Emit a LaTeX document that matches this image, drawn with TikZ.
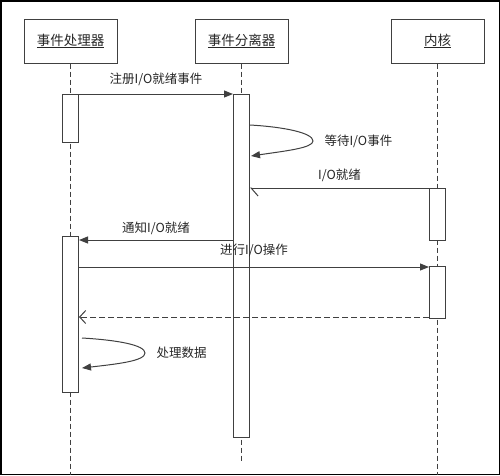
\documentclass[tikz,border=0pt]{standalone}
\usepackage{fontspec}
\setmainfont{Noto Sans CJK SC}
\usetikzlibrary{arrows.meta,positioning}
\tikzset{
    %Define standard arrow tip
    >={Triangle[length=9pt,width=7pt]},
    %Define style for boxes
    actor/.style={
           rectangle,
           draw=black!75, line width=1pt,
           minimum width=93pt,
           minimum height=44pt,
           font=\fontsize{13.5}{15}\selectfont,
           text=black!85,
           text centered},
    act/.style={
    rectangle,
    draw=black!75, line width=1pt,
    fill=white,
    minimum width=16pt,
    inner sep=0pt,
    anchor=north},
    % Define line styles
    life/.style={draw=black!75, line width=1pt, dash pattern=on 5pt off 3pt},
    msg/.style={draw=black!75, line width=1pt, ->},
    txt/.style={font=\fontsize{12.5}{14}\selectfont, text=black!85}
}
\begin{document}
\begin{tikzpicture}[x=1pt,y=-1pt]
\draw[line width=1.5pt] (0.75,0.75) rectangle (499.25,474.25);
\useasboundingbox (0,0) rectangle (500,475);
 %actors
\node[actor](handler) at (70.5,41) {\underline{事件处理器}};
\node[actor](demux) at (241.5,41) {\underline{事件分离器}};
\node[actor](kernel) at (437.5,41) {\underline{内核}};
\coordinate (handler end) at (70.5,475);
\coordinate (demux end) at (241.5,462);
\coordinate (kernel end) at (437.5,475);
\draw[life] (handler) -- (handler end);
\draw[life] (demux) -- (demux end);
\draw[life] (kernel) -- (kernel end);
 %activations
\node[act, minimum height=48pt](h1) at (70.5,94) {};
\node[act, minimum height=343pt](d1) at (241.5,94) {};
\node[act, minimum height=52pt](k1) at (437.5,188) {};
\node[act, minimum height=156pt](h2) at (70.5,236) {};
\node[act, minimum height=52pt](k2) at (437.5,266) {};
\coordinate (wait out) at (250,125);
\coordinate (wait tip) at (313,141);
\coordinate (wait in) at (251,156);
\coordinate (work out) at (82,338);
\coordinate (work tip) at (145,353);
\coordinate (work in) at (82,368);

 %messages
\draw[msg] (h1.north east) -- node[txt, above=4pt] {注册I/O就绪事件} (d1.north west);
\draw[msg] (wait out) .. controls (285,127) and (313,133) .. (wait tip) .. controls (313,148) and (285,151) .. (wait in);
\node[txt, right=8pt of wait tip] (wait label) {等待I/O事件};
\draw[msg, -{Straight Barb[left,length=7pt,width=16pt]}] (k1.north west) -- node[txt, above=2pt] {I/O就绪} (k1.north west -| d1.east);
\draw[msg] ([yshift=-4pt]h2.north east -| d1.west) -- node[txt, above=1pt] {通知I/O就绪} ([yshift=-4pt]h2.north east);
\draw[msg] ([yshift=-31pt]h2.north east) -- node[txt, above=6pt] {进行I/O操作} ([yshift=-31pt]h2.north east -| k2.west);
\draw[msg, dash pattern=on 6pt off 3pt, -{Straight Barb[length=6pt,width=13pt]}] ([yshift=2pt]k2.south west) -- ([yshift=2pt]k2.south west -| h2.east);
\draw[msg] (work out) .. controls (117,340) and (145,345) .. (work tip) .. controls (145,361) and (117,364) .. (work in);
\node[txt, right=8pt of work tip] (work label) {处理数据};
\end{tikzpicture}
\end{document}
